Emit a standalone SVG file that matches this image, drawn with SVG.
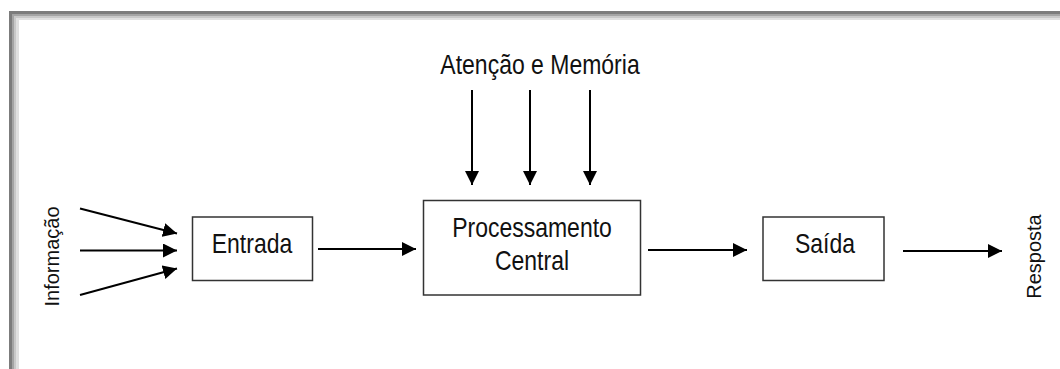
<svg xmlns="http://www.w3.org/2000/svg" width="1060" height="369" viewBox="0 0 1060 369">
<defs>
<style>
.box{fill:#fff;stroke:#333;stroke-width:1.5}
.lbl{font-family:"Liberation Sans",Arial,sans-serif;font-size:23px;fill:#111;text-anchor:middle}
.side{font-family:"Liberation Sans",Arial,sans-serif;font-size:20px;fill:#111;text-anchor:middle}
.con{stroke:#000;stroke-width:2;fill:none;marker-end:url(#ah)}
</style>
<marker id="ah" markerUnits="userSpaceOnUse" markerWidth="14" markerHeight="14" refX="14" refY="7" orient="auto">
<path d="M0,0 L14,7 L0,14 z" fill="#000"/>
</marker>
</defs>
<rect x="0" y="0" width="1060" height="369" fill="#fff"/>
<g id="frame">
<rect x="9" y="11" width="1060" height="400" fill="#7c7c7c"/>
<rect x="12" y="14" width="1060" height="400" fill="#a4a4a4"/>
<rect x="14" y="16" width="1060" height="400" fill="#c8c8c8"/>
<rect x="16" y="18" width="1060" height="400" fill="#e0e0e0"/>
<rect x="19" y="20" width="1060" height="400" fill="#fff"/>
</g>
<g id="informacao"><text class="side" transform="translate(59,256.5) rotate(-90)">Informação</text></g>
<g id="resposta"><text class="side" transform="translate(1041,256.5) rotate(-90)">Resposta</text></g>
<g id="atencao"><text class="lbl" transform="translate(540,74) scale(1,1.22)">Atenção e Memória</text></g>
<g id="entrada">
<rect class="box" x="192.5" y="217" width="120" height="63.5"/>
<text class="lbl" transform="translate(252,253) scale(1,1.22)">Entrada</text>
</g>
<g id="processamento">
<rect class="box" x="423.5" y="200.5" width="217" height="94.5"/>
<text class="lbl" transform="translate(532,237) scale(1,1.22)">Processamento</text>
<text class="lbl" transform="translate(532,270) scale(1,1.22)">Central</text>
</g>
<g id="saida">
<rect class="box" x="763" y="217" width="121" height="63.5"/>
<text class="lbl" transform="translate(825,253) scale(1,1.22)">Saída</text>
</g>
<g id="connectors">
<line class="con" x1="80" y1="208.5" x2="177" y2="233.5"/>
<line class="con" x1="80" y1="250.5" x2="177" y2="250.5"/>
<line class="con" x1="80" y1="295" x2="177" y2="268.5"/>
<line class="con" x1="318" y1="249" x2="416" y2="249"/>
<line class="con" x1="648" y1="250" x2="747" y2="250"/>
<line class="con" x1="903" y1="251" x2="1002" y2="251"/>
<line class="con" x1="472" y1="90" x2="472" y2="185"/>
<line class="con" x1="530" y1="90" x2="530" y2="185"/>
<line class="con" x1="590" y1="90" x2="590" y2="185"/>
</g>
</svg>
